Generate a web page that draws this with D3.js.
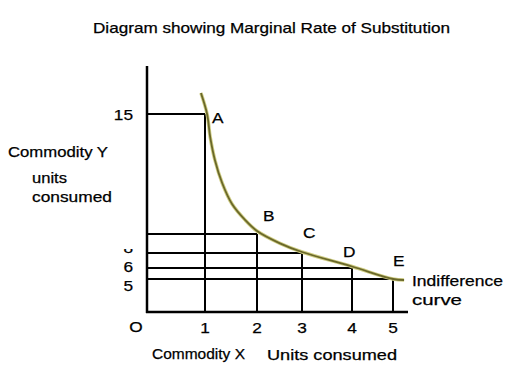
<!DOCTYPE html>
<html>
<head>
<meta charset="utf-8">
<script src="https://cdn.jsdelivr.net/npm/d3@7"></script>
<style>
  body { margin: 0; background: #fff; }
  text { font-family: "Liberation Sans", Arial, sans-serif; fill: #000; stroke: #000; stroke-width: 0.25px; }
</style>
</head>
<body>
<div id="chart"></div>
<script>
// units of X and Y at each point on the indifference curve
var points = ["A", "B", "C", "D", "E"];
var unitsX = [1, 2, 3, 4, 5];
var unitsY = [15, 11, 8, 6, 5];
// the drawn curve (it runs a bit past A and E)
var curveX = [0.93, 1.04, 1.10, 1.19, 1.33, 1.52, 1.77, 2.0, 2.51, 3.0, 4.0, 5.0, 5.27];
var curveY = [15.7, 15.0, 14.23, 13.47, 12.7, 12.0, 11.47, 11.1, 9.53, 8.16, 6.2, 5.0, 4.85];
var xTicks = [1, 2, 3, 4, 5];
var yTicks = [15, 8, 6, 5];

var width = 507, height = 384;

var svg = d3.select("#chart")
  .append("svg")
    .attr("width", width)
    .attr("height", height);

// hand drawn diagram, spacing is uneven -> piecewise linear scales
var x = d3.scaleLinear()
  .domain([0, 1, 2, 3, 4, 5])
  .range([147, 205, 257, 302, 352, 393]);

var y = d3.scaleLinear()
  .domain([0, 5, 6, 8, 11, 15])
  .range([312, 279, 268, 253, 234, 114]);

// helper: text is a little wider than the font, stretch it
function label(txt, px, py, w, size) {
  var t = svg.append("text")
    .attr("x", px)
    .attr("y", py)
    .style("font-size", (size || 15) + "px")
    .text(txt);
  var len = w || t.node().getComputedTextLength() * 1.15;
  t.attr("textLength", len).attr("lengthAdjust", "spacingAndGlyphs");
  return t;
}

// title
label("Diagram showing Marginal Rate of Substitution", 93, 33, 357);

var pts = unitsX.map((d, i) => ({ x: d, y: unitsY[i], name: points[i] }));

// guide lines
svg.selectAll(".hguide")
  .data(pts)
  .enter()
  .append("line")
    .attr("x1", x(0))
    .attr("x2", d => x(d.x))
    .attr("y1", d => y(d.y))
    .attr("y2", d => y(d.y))
    .attr("stroke", "#000")
    .attr("stroke-width", 2);

svg.selectAll(".vguide")
  .data(pts)
  .enter()
  .append("line")
    .attr("x1", d => x(d.x))
    .attr("x2", d => x(d.x))
    .attr("y1", d => y(d.y))
    .attr("y2", y(0))
    .attr("stroke", "#000")
    .attr("stroke-width", 2);

// axes
svg.append("line")
  .attr("x1", x(0)).attr("x2", x(0))
  .attr("y1", 66).attr("y2", y(0) + 1)
  .attr("stroke", "#000").attr("stroke-width", 2.5);
svg.append("line")
  .attr("x1", x(0) - 1).attr("x2", 408)
  .attr("y1", y(0)).attr("y2", y(0))
  .attr("stroke", "#000").attr("stroke-width", 2.5);

// indifference curve
var curveData = curveX.map((d, i) => [d, curveY[i]]);
var line = d3.line()
  .x(d => x(d[0]))
  .y(d => y(d[1]))
  .curve(d3.curveCatmullRom.alpha(0.5));

svg.append("path")
  .datum(curveData)
  .attr("d", line)
  .attr("fill", "none")
  .attr("stroke", "#cfcd84")
  .attr("stroke-width", 3.5);
svg.append("path")
  .datum(curveData)
  .attr("d", line)
  .attr("fill", "none")
  .attr("stroke", "#6a682a")
  .attr("stroke-width", 1.8);

// point labels
var labelOff = { A: [7, 9], B: [6, -13], C: [1, -15], D: [-9, -11], E: [0, -13] };
pts.forEach(d => {
  label(d.name, x(d.x) + labelOff[d.name][0], y(d.y) + labelOff[d.name][1]);
});

// tick labels
xTicks.forEach(d => {
  label(String(d), x(d), 333).attr("text-anchor", "middle");
});
label("O", 136, 332).attr("text-anchor", "middle");

var yLabelShift = { 15: 6, 8: 0, 6: 4, 5: 12 };
yTicks.forEach(d => {
  label(String(d), 133, y(d) + yLabelShift[d]).attr("text-anchor", "end");
});

// white patch hiding the top of the "8", as in the original
svg.append("rect")
  .attr("x", 116).attr("y", 236)
  .attr("width", 22).attr("height", 13)
  .attr("fill", "#fff");

// axis titles
label("Commodity Y", 8, 157, 100);
label("units", 32, 183, 35);
label("consumed", 32, 202, 80);

label("Commodity X", 152, 359, 93);
label("Units consumed", 267, 360, 130);

label("Indifference", 412, 286, 91);
label("curve", 412, 305, 50);
</script>
</body>
</html>
